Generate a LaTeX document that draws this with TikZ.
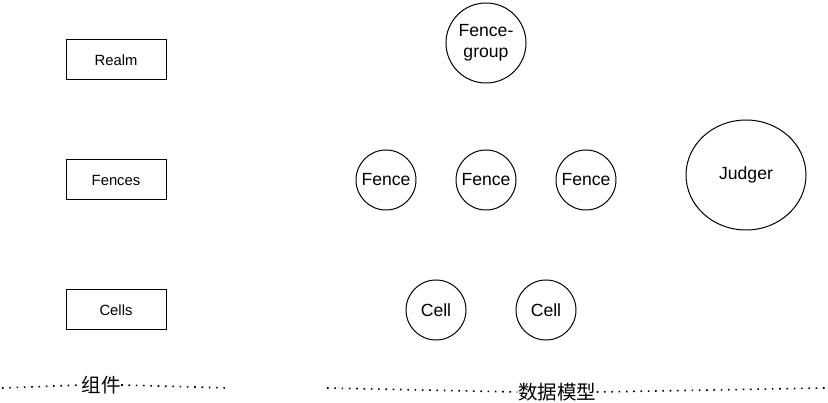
\documentclass[tikz,border=0pt]{standalone}
\usepackage{fontspec}
\setmainfont{Liberation Sans}
\newfontfamily\cjk{Noto Sans CJK SC}
\usetikzlibrary{shapes.geometric}

\tikzset{
	compbox/.style={draw, line width=1pt, minimum width=100pt, minimum height=40pt,
		inner sep=0pt, font=\fontsize{14.8}{17}\selectfont},
	modelnode/.style={draw, circle, line width=1pt, minimum size=60pt,
		inner sep=0pt, font=\fontsize{17.6}{21}\selectfont},
	sepline/.style={line width=1.6pt, dash pattern=on 1.6pt off 5.7pt},
	seplabel/.style={inner sep=0.5pt, font=\cjk\fontsize{19.5}{22}\selectfont},
}

\begin{document}
\begin{tikzpicture}[x=1pt, y=-1pt]
		\useasboundingbox (0,0) rectangle (828,403);
		% components
		\node[compbox] (RL) at (116,60) {Realm};
		\node[compbox] (FS) at (116,180) {Fences};
		\node[compbox] (CS) at (116,310) {Cells};
		% data model
		\node[modelnode, minimum size=80pt, align=center] (FG) at (486,43) {Fence-\\group};
		\foreach \N/\X in {1/386, 2/486, 3/586}{
			\node[modelnode] (F\N) at (\X,180) {Fence};
		}
		\node[modelnode, ellipse, minimum width=120pt, minimum height=110pt] (JD) at (746,175) {Judger};
		\foreach \N/\X in {1/436, 2/546}{
			\node[modelnode] (C\N) at (\X,310) {Cell};
		}
		% separators
		\coordinate (ZJa) at (2,388);
		\coordinate (ZJb) at (229,388);
		\node[seplabel] (ZJ) at (101,385) {组件};
		\draw[sepline] (ZJa) -- (ZJ.west);
		\draw[sepline] (ZJ.east) -- (ZJb);
		\coordinate (SJa) at (327,388);
		\coordinate (SJb) at (826,388);
		\node[seplabel] (SJ) at (557,392) {数据模型};
		\draw[sepline] (SJa) -- (SJ.west);
		\draw[sepline] (SJ.east) -- (SJb);
	\end{tikzpicture}
\end{document}
